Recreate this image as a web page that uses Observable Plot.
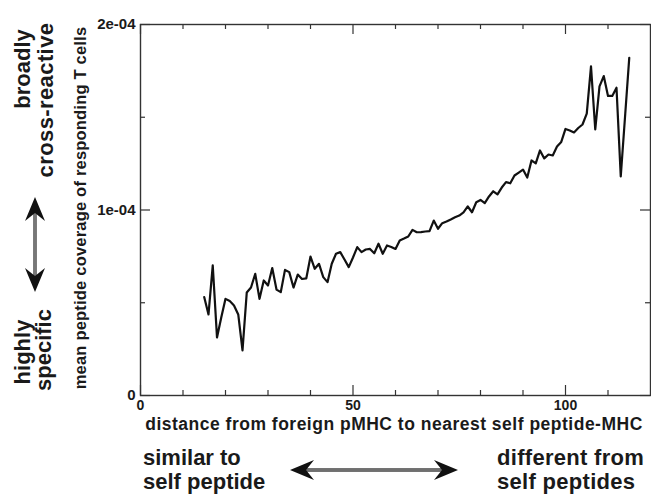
<!DOCTYPE html>
<html><head><meta charset="utf-8">
<script src="https://cdn.jsdelivr.net/npm/d3@7"></script>
<script src="https://cdn.jsdelivr.net/npm/@observablehq/plot@0.6"></script>
<style>html,body{margin:0;padding:0;background:#fff;overflow:hidden}</style>
</head><body><div id="chart"></div>
<script>
// distance from foreign pMHC to nearest self peptide-MHC
const distance = [15,16,17,18,19,20,21,22,23,24,25,26,27,28,29,30,31,32,33,34,35,36,37,38,39,40,
  41,42,43,44,45,46,47,48,49,50,51,52,53,54,55,56,57,58,59,60,61,62,63,64,65,66,67,68,69,70,
  71,72,73,74,75,76,77,78,79,80,81,82,83,84,85,86,87,88,89,90,91,92,93,94,95,96,97,98,99,100,
  101,102,103,104,105,106,107,108,109,110,111,112,113,114,115];
// mean peptide coverage of responding T cells
const coverage = [5.30e-5,4.37e-5,7.01e-5,3.13e-5,4.20e-5,5.21e-5,5.09e-5,4.85e-5,4.37e-5,2.43e-5,
  5.55e-5,5.82e-5,6.56e-5,5.21e-5,6.20e-5,5.93e-5,6.87e-5,5.71e-5,5.57e-5,6.77e-5,
  6.65e-5,5.82e-5,6.52e-5,6.28e-5,6.31e-5,7.49e-5,6.83e-5,7.10e-5,6.38e-5,6.11e-5,
  7.10e-5,7.64e-5,7.73e-5,7.33e-5,6.92e-5,7.44e-5,8.00e-5,7.73e-5,7.87e-5,7.90e-5,
  7.67e-5,8.18e-5,7.64e-5,8.09e-5,8.01e-5,7.90e-5,8.36e-5,8.46e-5,8.57e-5,8.93e-5,
  8.80e-5,8.81e-5,8.84e-5,8.86e-5,9.43e-5,8.99e-5,9.29e-5,9.38e-5,9.49e-5,9.61e-5,
  9.70e-5,9.87e-5,10.19e-5,9.88e-5,10.42e-5,10.54e-5,10.37e-5,10.73e-5,11.01e-5,10.84e-5,
  11.21e-5,11.50e-5,11.44e-5,11.86e-5,12.02e-5,12.18e-5,11.75e-5,12.67e-5,12.51e-5,13.21e-5,
  12.78e-5,12.99e-5,12.94e-5,13.42e-5,13.67e-5,14.37e-5,14.29e-5,14.18e-5,14.42e-5,14.61e-5,
  15.20e-5,17.74e-5,14.34e-5,16.66e-5,17.22e-5,16.15e-5,16.15e-5,16.59e-5,11.81e-5,15.00e-5,
  18.20e-5];
const xMajorTicks = [0, 50, 100];
const xMinorTicks = [10, 20, 30, 40, 60, 70, 80, 90, 110];
const yMajorTicks = [0, 1e-4, 2e-4];
const yMajorLabels = ["0", "1e-04", "2e-04"];
const yMinorTicks = [0.5e-4, 1.5e-4];

const FONT = "'Liberation Sans', Arial, Helvetica, sans-serif";
const W = 651, H = 494, mL = 140, mR = 1, mT = 24, mB = 99;
const iw = W - mL - mR, ih = H - mT - mB;
const data = distance.map((d, i) => ({x: d, y: coverage[i]}));
const ink = "#1a1a1a";

const plot = Plot.plot({
  width: W, height: H,
  marginLeft: mL, marginRight: mR, marginTop: mT, marginBottom: mB,
  style: {fontFamily: FONT, fontWeight: "bold", fontSize: "13px", color: ink, background: "#fff"},
  x: {domain: [0, 120]},
  y: {domain: [0, 2e-4]},
  marks: [
    Plot.frame({stroke: "#333", strokeWidth: 1.4}),
    Plot.tickX(xMajorTicks, {x: d => d, insetTop: ih - 10, stroke: "#333", strokeWidth: 1.2}),
    Plot.tickX(xMajorTicks, {x: d => d, insetBottom: ih - 10, stroke: "#333", strokeWidth: 1.2}),
    Plot.tickX(xMinorTicks, {x: d => d, insetTop: ih - 5, stroke: "#333", strokeWidth: 1.2}),
    Plot.tickX(xMinorTicks, {x: d => d, insetBottom: ih - 5, stroke: "#333", strokeWidth: 1.2}),
    Plot.tickY(yMajorTicks, {y: d => d, insetRight: iw - 10, stroke: "#333", strokeWidth: 1.2}),
    Plot.tickY(yMajorTicks, {y: d => d, insetLeft: iw - 10, stroke: "#333", strokeWidth: 1.2}),
    Plot.tickY(yMinorTicks, {y: d => d, insetRight: iw - 5, stroke: "#333", strokeWidth: 1.2}),
    Plot.tickY(yMinorTicks, {y: d => d, insetLeft: iw - 5, stroke: "#333", strokeWidth: 1.2}),
    Plot.axisX(xMajorTicks, {tickSize: 0, tickPadding: 5, label: null, fill: ink}),
    Plot.axisY(yMajorTicks, {tickSize: 0, tickPadding: 5, label: null, fill: ink,
      tickFormat: d => yMajorLabels[yMajorTicks.indexOf(d)]}),
    Plot.line(data, {x: "x", y: "y", stroke: "#111", strokeWidth: 2.2})
  ]
});
document.getElementById("chart").appendChild(plot);

const svg = d3.select(plot);
// tick label fonts
svg.selectAll("text").style("font-weight", "bold").style("font-family", FONT);
svg.selectAll("g[aria-label='x-axis tick label'] text").style("font-size", "14px");
svg.selectAll("g[aria-label='y-axis tick label'] text").style("font-size", "15px");

// annotations in the margins
const g = svg.append("g").attr("font-family", FONT).attr("font-weight", "bold").attr("fill", ink);
function rtext(x, y, str, size, anchor = "middle", ls = 0) {
  g.append("text").attr("transform", `translate(${x},${y}) rotate(-90)`)
    .attr("text-anchor", anchor).style("font-size", size + "px").attr("letter-spacing", ls).text(str);
}
function htext(x, y, str, size, anchor = "start", ls = 0) {
  g.append("text").attr("x", x).attr("y", y).attr("text-anchor", anchor)
    .style("font-size", size + "px").attr("letter-spacing", ls).text(str);
}
rtext(86, 208, "mean peptide coverage of responding T cells", 16.5, "middle", 0.2);
htext(394, 430, "distance from foreign pMHC to nearest self peptide-MHC", 17.5, "middle", 0.5);
rtext(30, 69, "broadly", 22);
rtext(53, 100, "cross-reactive", 22, "middle", 0.4);
rtext(30, 352, "highly", 22);
rtext(51, 350, "specific", 22);
htext(143, 465, "similar to", 22);
htext(143, 489, "self peptide", 22);
htext(497, 465, "different from", 22, "start", 0.3);
htext(497, 489, "self peptides", 22, "start", 0.3);

function arrow(x1, y1, x2, y2) {
  const a = g.append("g");
  const ang = Math.atan2(y2 - y1, x2 - x1);
  const ux = Math.cos(ang), uy = Math.sin(ang);
  a.append("line").attr("x1", x1 + ux * 14).attr("y1", y1 + uy * 14)
    .attr("x2", x2 - ux * 14).attr("y2", y2 - uy * 14)
    .attr("stroke", "#444").attr("stroke-width", 3.4);
  a.append("line").attr("x1", x1 + ux * 14).attr("y1", y1 + uy * 14)
    .attr("x2", x2 - ux * 14).attr("y2", y2 - uy * 14)
    .attr("stroke", "#9a9a9a").attr("stroke-width", 1.2);
  const head = "M0,0 L-24,-10 L-16,0 L-24,10 Z";
  a.append("path").attr("d", head).attr("fill", "#111")
    .attr("transform", `translate(${x2},${y2}) rotate(${ang * 180 / Math.PI})`);
  a.append("path").attr("d", head).attr("fill", "#111")
    .attr("transform", `translate(${x1},${y1}) rotate(${ang * 180 / Math.PI + 180})`);
}
arrow(290, 470, 458, 470);
arrow(35, 197, 35, 292);
</script>
</body></html>
